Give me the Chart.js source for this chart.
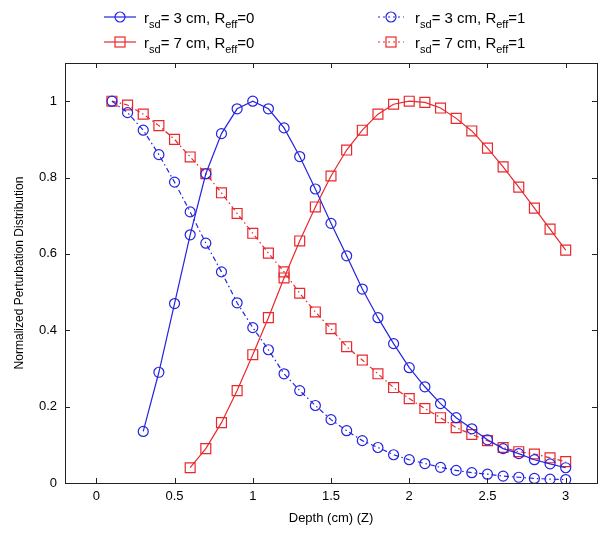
<!DOCTYPE html>
<html>
<head>
<meta charset="utf-8">
<script src="https://cdn.jsdelivr.net/npm/chart.js@4.4.1/dist/chart.umd.min.js"></script>
<style>
  body { margin: 0; background: #fff; font-family: "Liberation Sans", Arial, sans-serif; }
  #wrap { position: relative; width: 609px; height: 535px; }
  .leg { position: absolute; font-size: 15px; color: #000; white-space: nowrap; line-height: 15px; }
  .leg sub { font-size: 11px; vertical-align: -5px; line-height: 0; }
</style>
</head>
<body>
<div id="wrap">
  <canvas id="grafico"></canvas>
  <div class="leg" style="left:144px;top:10px">r<sub>sd</sub>= 3 cm, R<sub>eff</sub>=0</div>
  <div class="leg" style="left:144px;top:35px">r<sub>sd</sub>= 7 cm, R<sub>eff</sub>=0</div>
  <div class="leg" style="left:415px;top:10px">r<sub>sd</sub>= 3 cm, R<sub>eff</sub>=1</div>
  <div class="leg" style="left:415px;top:35px">r<sub>sd</sub>= 7 cm, R<sub>eff</sub>=1</div>
  <svg style="position:absolute;left:0;top:0" width="609" height="60">
    <line x1="104" y1="17" x2="136" y2="17" stroke="#2424e0" stroke-width="1.2"/>
    <circle cx="120" cy="17" r="5" fill="none" stroke="#2424e0" stroke-width="1.2"/>
    <line x1="104" y1="42" x2="136" y2="42" stroke="#e8282c" stroke-width="1.2"/>
    <rect x="115" y="37" width="10" height="10" fill="none" stroke="#e8282c" stroke-width="1.2"/>
    <line x1="378" y1="17" x2="404" y2="17" stroke="#2424e0" stroke-width="1.2" stroke-dasharray="2,3"/>
    <circle cx="391" cy="17" r="5" fill="none" stroke="#2424e0" stroke-width="1.2"/>
    <line x1="378" y1="42" x2="404" y2="42" stroke="#e8282c" stroke-width="1.2" stroke-dasharray="2,3"/>
    <rect x="386" y="37" width="10" height="10" fill="none" stroke="#e8282c" stroke-width="1.2"/>
  </svg>
</div>
<script>
// profundidades (cm)
const depthA = [0.3, 0.4, 0.5, 0.6, 0.7, 0.8, 0.9, 1.0, 1.1, 1.2, 1.3, 1.4, 1.5, 1.6, 1.7, 1.8, 1.9, 2.0, 2.1, 2.2, 2.3, 2.4, 2.5, 2.6, 2.7, 2.8, 2.9, 3.0];
const depthB = [0.6, 0.7, 0.8, 0.9, 1.0, 1.1, 1.2, 1.3, 1.4, 1.5, 1.6, 1.7, 1.8, 1.9, 2.0, 2.1, 2.2, 2.3, 2.4, 2.5, 2.6, 2.7, 2.8, 2.9, 3.0];
const depthC = [0.1, 0.2, 0.3, 0.4, 0.5, 0.6, 0.7, 0.8, 0.9, 1.0, 1.1, 1.2, 1.3, 1.4, 1.5, 1.6, 1.7, 1.8, 1.9, 2.0, 2.1, 2.2, 2.3, 2.4, 2.5, 2.6, 2.7, 2.8, 2.9, 3.0];

// rsd = 3 cm, Reff = 0
const r3Reff0 = [0.135, 0.29, 0.47, 0.65, 0.81, 0.915, 0.98, 1.0, 0.98, 0.93, 0.855, 0.77, 0.68, 0.595, 0.508, 0.433, 0.365, 0.302, 0.252, 0.208, 0.171, 0.142, 0.113, 0.09, 0.077, 0.061, 0.05, 0.04];
// rsd = 7 cm, Reff = 0
const r7Reff0 = [0.04, 0.09, 0.158, 0.242, 0.336, 0.433, 0.537, 0.634, 0.723, 0.804, 0.872, 0.924, 0.966, 0.992, 1.0, 0.997, 0.982, 0.955, 0.922, 0.877, 0.828, 0.775, 0.72, 0.665, 0.61];
// rsd = 3 cm, Reff = 1
const r3Reff1 = [1.0, 0.97, 0.924, 0.86, 0.788, 0.71, 0.628, 0.553, 0.472, 0.407, 0.349, 0.286, 0.242, 0.203, 0.166, 0.137, 0.111, 0.093, 0.074, 0.061, 0.051, 0.041, 0.033, 0.027, 0.023, 0.018, 0.015, 0.012, 0.01, 0.009];
// rsd = 7 cm, Reff = 1
const r7Reff1 = [1.0, 0.99, 0.966, 0.936, 0.9, 0.854, 0.81, 0.76, 0.706, 0.654, 0.602, 0.553, 0.497, 0.448, 0.404, 0.357, 0.322, 0.286, 0.25, 0.221, 0.195, 0.171, 0.145, 0.127, 0.111, 0.093, 0.082, 0.076, 0.066, 0.056];

const xTicks = [0, 0.5, 1, 1.5, 2, 2.5, 3];
const yTicks = [0, 0.2, 0.4, 0.6, 0.8, 1];

const azul = '#2424e0';
const rojo = '#e8282c';

function puntos(xs, ys) {
    return xs.map((x, i) => ({ x: x, y: ys[i] }));
}

// marco y ticks hacia adentro, estilo matlab
const marcoPlugin = {
    id: 'marco',
    afterDraw(chart) {
        const ctx = chart.ctx;
        const a = chart.chartArea;
        const sx = chart.scales.x, sy = chart.scales.y;
        ctx.save();
        ctx.strokeStyle = '#222';
        ctx.lineWidth = 1;
        ctx.strokeRect(Math.round(a.left) + 0.5, Math.round(a.top) + 0.5, Math.round(a.right - a.left), Math.round(a.bottom - a.top));
        ctx.beginPath();
        xTicks.forEach(v => {
            const px = Math.round(sx.getPixelForValue(v)) + 0.5;
            ctx.moveTo(px, a.bottom); ctx.lineTo(px, a.bottom - 5);
            ctx.moveTo(px, a.top); ctx.lineTo(px, a.top + 5);
        });
        yTicks.forEach(v => {
            const py = Math.round(sy.getPixelForValue(v)) + 0.5;
            ctx.moveTo(a.left, py); ctx.lineTo(a.left + 5, py);
            ctx.moveTo(a.right, py); ctx.lineTo(a.right - 5, py);
        });
        ctx.stroke();
        ctx.restore();
    }
};

function serie(label, xs, ys, color, estilo, radio, dash) {
    return {
        label: label,
        data: puntos(xs, ys),
        borderColor: color,
        borderWidth: 1.2,
        borderDash: dash,
        pointStyle: estilo,
        pointRadius: radio,
        pointBorderColor: color,
        pointBackgroundColor: 'rgba(0,0,0,0)',
        pointBorderWidth: 1.2,
        tension: 0
    };
}

const ctx = document.getElementById('grafico').getContext('2d');
new Chart(ctx, {
    type: 'line',
    data: {
        datasets: [
            serie('rsd= 3 cm, Reff=0', depthA, r3Reff0, azul, 'circle', 5, []),
            serie('rsd= 7 cm, Reff=0', depthB, r7Reff0, rojo, 'rect', 7, []),
            serie('rsd= 3 cm, Reff=1', depthC, r3Reff1, azul, 'circle', 5, [5, 3, 1.5, 3]),
            serie('rsd= 7 cm, Reff=1', depthC, r7Reff1, rojo, 'rect', 7, [5, 3, 1.5, 3])
        ]
    },
    options: {
        responsive: true,
        maintainAspectRatio: false,
        animation: false,
        layout: { padding: { top: 63, right: 12, left: 0, bottom: 0 } },
        plugins: {
            legend: { display: false },
            tooltip: { enabled: false }
        },
        scales: {
            x: {
                type: 'linear',
                min: -0.2,
                max: 3.2,
                afterBuildTicks: s => { s.ticks = xTicks.map(v => ({ value: v })); },
                afterFit: s => { s.height = 52; },
                ticks: {
                    color: '#000',
                    font: { size: 13, family: 'Liberation Sans' },
                    padding: 6,
                    maxRotation: 0,
                    callback: v => String(v)
                },
                grid: { display: false, drawTicks: false },
                border: { display: false },
                title: {
                    display: true,
                    text: 'Depth (cm) (Z)',
                    color: '#000',
                    font: { size: 13, family: 'Liberation Sans' },
                    padding: { top: 0, bottom: 9 }
                }
            },
            y: {
                type: 'linear',
                min: 0,
                max: 1.1,
                afterBuildTicks: s => { s.ticks = yTicks.map(v => ({ value: v })); },
                afterFit: s => { s.width = 65; },
                ticks: {
                    color: '#000',
                    font: { size: 13, family: 'Liberation Sans' },
                    padding: 8,
                    callback: v => String(v)
                },
                grid: { display: false, drawTicks: false },
                border: { display: false },
                title: {
                    display: true,
                    text: 'Normalized Perturbation Distribution',
                    color: '#000',
                    font: { size: 12, family: 'Liberation Sans' },
                    padding: { top: 12, bottom: 0 }
                }
            }
        }
    },
    plugins: [marcoPlugin]
});
</script>
</body>
</html>
